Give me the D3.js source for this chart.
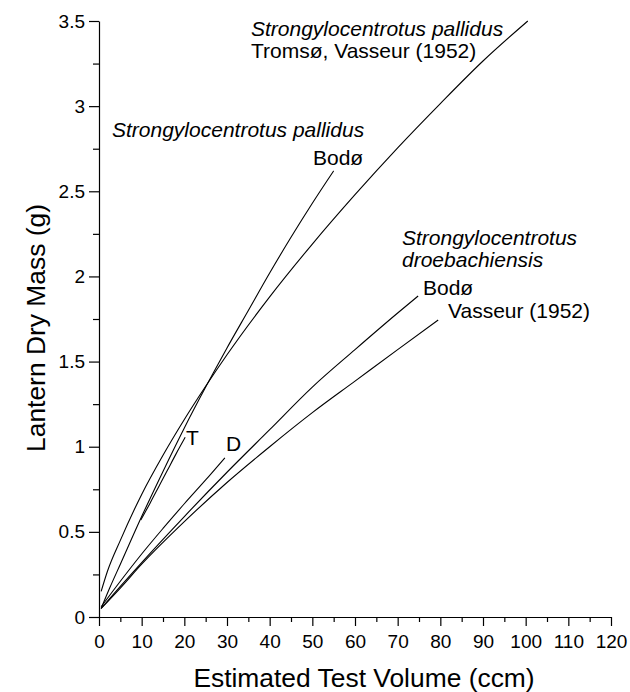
<!DOCTYPE html>
<html>
<head>
<meta charset="utf-8">
<script src="https://cdn.jsdelivr.net/npm/d3@7/dist/d3.min.js"></script>
<style>
  html, body { margin: 0; padding: 0; background: #fff; }
  svg { display: block; font-family: "Liberation Sans", Arial, Helvetica, sans-serif; }
  .curve { fill: none; stroke: #000; stroke-width: 1.1; stroke-linejoin: round; }
  .axis path, .axis line { stroke: #000; stroke-width: 1.2; }
  .axis text { font-size: 19px; fill: #000; }
  .note { font-size: 21px; fill: #000; }
  .note.sp { font-style: italic; }
  .title { font-size: 26.4px; fill: #000; }
</style>
</head>
<body>
<svg id="chart" width="630" height="692"></svg>
<script>
// Lantern dry mass against estimated test volume, regression curves per population

// S. pallidus, Tromsø (Vasseur 1952)
const pallidusTromsoX = [0.5, 2, 5, 10, 15, 20, 25, 30, 40, 50, 60, 70, 80, 90, 100.5];
const pallidusTromsoY = [0.15, 0.27, 0.45, 0.72, 0.95, 1.16, 1.355, 1.54, 1.88, 2.19, 2.48, 2.755, 3.015, 3.265, 3.5];

// S. pallidus, Bodø
const pallidusBodoX = [0.5, 2.5, 5, 10, 15, 20, 25, 30, 35, 40, 45, 50, 55];
const pallidusBodoY = [0.05, 0.17, 0.31, 0.59, 0.855, 1.11, 1.35, 1.58, 1.80, 2.02, 2.23, 2.43, 2.62];

// short range segment marked "T"
const segTX = [9.8, 12, 14, 16, 18, 20.2];
const segTY = [0.57, 0.67, 0.765, 0.86, 0.955, 1.055];

// short range segment marked "D"
const segDX = [0.5, 5, 10, 15, 20, 25, 29.5];
const segDY = [0.06, 0.21, 0.37, 0.52, 0.665, 0.805, 0.935];

// S. droebachiensis, Bodø
const droebBodoX = [0.5, 5, 10, 20, 30, 40, 50, 60, 70, 74.8];
const droebBodoY = [0.05, 0.18, 0.32, 0.59, 0.85, 1.10, 1.35, 1.57, 1.785, 1.885];

// S. droebachiensis (Vasseur 1952)
const droebVasseurX = [0.5, 5, 10, 20, 30, 40, 50, 60, 70, 79.5];
const droebVasseurY = [0.05, 0.17, 0.31, 0.56, 0.79, 1.00, 1.20, 1.385, 1.57, 1.744];

// axis ticks
const xMajorTicks = [0, 10, 20, 30, 40, 50, 60, 70, 80, 90, 100, 110, 120];
const xMinorTicks = [5, 15, 25, 35, 45, 55, 65, 75, 85, 95, 105, 115];
const yMajorTicks = [0, 0.5, 1, 1.5, 2, 2.5, 3, 3.5];
const yMinorTicks = [0.25, 0.75, 1.25, 1.75, 2.25, 2.75, 3.25];

const svg = d3.select("#chart");
const plotLeft = 99, plotRight = 611, plotTop = 21, plotBottom = 617;

const x = d3.scaleLinear().domain([0, 120]).range([plotLeft, plotRight]);
const y = d3.scaleLinear().domain([0, 3.5]).range([plotBottom, plotTop]);

const series = [
  [pallidusTromsoX, pallidusTromsoY],
  [pallidusBodoX, pallidusBodoY],
  [segTX, segTY],
  [segDX, segDY],
  [droebBodoX, droebBodoY],
  [droebVasseurX, droebVasseurY]
];

const line = d3.line()
  .x(d => x(d[0]))
  .y(d => y(d[1]))
  .curve(d3.curveMonotoneX);

svg.append("g")
  .selectAll("path")
  .data(series.map(([xs, ys]) => xs.map((v, i) => [v, ys[i]])))
  .join("path")
  .attr("class", "curve")
  .attr("d", line);

// x axis: major ticks with labels, minor ticks without
const gx = svg.append("g").attr("class", "axis").attr("transform", `translate(0,${plotBottom})`);
gx.call(d3.axisBottom(x).tickValues(xMajorTicks).tickSize(9).tickPadding(9).tickSizeOuter(0).tickFormat(d3.format("d")));
gx.append("g").call(d3.axisBottom(x).tickValues(xMinorTicks).tickSize(5).tickFormat("")).select(".domain").remove();

// y axis
const gy = svg.append("g").attr("class", "axis").attr("transform", `translate(${plotLeft},0)`);
gy.call(d3.axisLeft(y).tickValues(yMajorTicks).tickSize(10).tickPadding(4).tickSizeOuter(0).tickFormat(d => String(d)));
gy.append("g").call(d3.axisLeft(y).tickValues(yMinorTicks).tickSize(6).tickFormat("")).select(".domain").remove();

svg.selectAll(".axis, .axis g").attr("font-family", null).attr("font-size", null);

// axis titles
svg.append("text").attr("class", "title")
  .attr("x", 364).attr("y", 687).attr("text-anchor", "middle")
  .text("Estimated Test Volume (ccm)");
svg.append("text").attr("class", "title")
  .attr("transform", "translate(45,328) rotate(-90)").attr("text-anchor", "middle")
  .text("Lantern Dry Mass (g)");

// curve annotations
const notes = [
  { t: "Strongylocentrotus pallidus", x: 251, y: 36, sp: true },
  { t: "Tromsø, Vasseur (1952)", x: 251, y: 58 },
  { t: "Strongylocentrotus pallidus", x: 112, y: 137, sp: true },
  { t: "Bodø", x: 313, y: 165 },
  { t: "Strongylocentrotus", x: 402, y: 245, sp: true },
  { t: "droebachiensis", x: 402, y: 267, sp: true },
  { t: "Bodø", x: 423, y: 295 },
  { t: "Vasseur (1952)", x: 448, y: 318 },
  { t: "T", x: 186, y: 445 },
  { t: "D", x: 226, y: 451 }
];
svg.append("g").selectAll("text")
  .data(notes)
  .join("text")
  .attr("class", d => d.sp ? "note sp" : "note")
  .attr("x", d => d.x)
  .attr("y", d => d.y)
  .text(d => d.t);
</script>
</body>
</html>
